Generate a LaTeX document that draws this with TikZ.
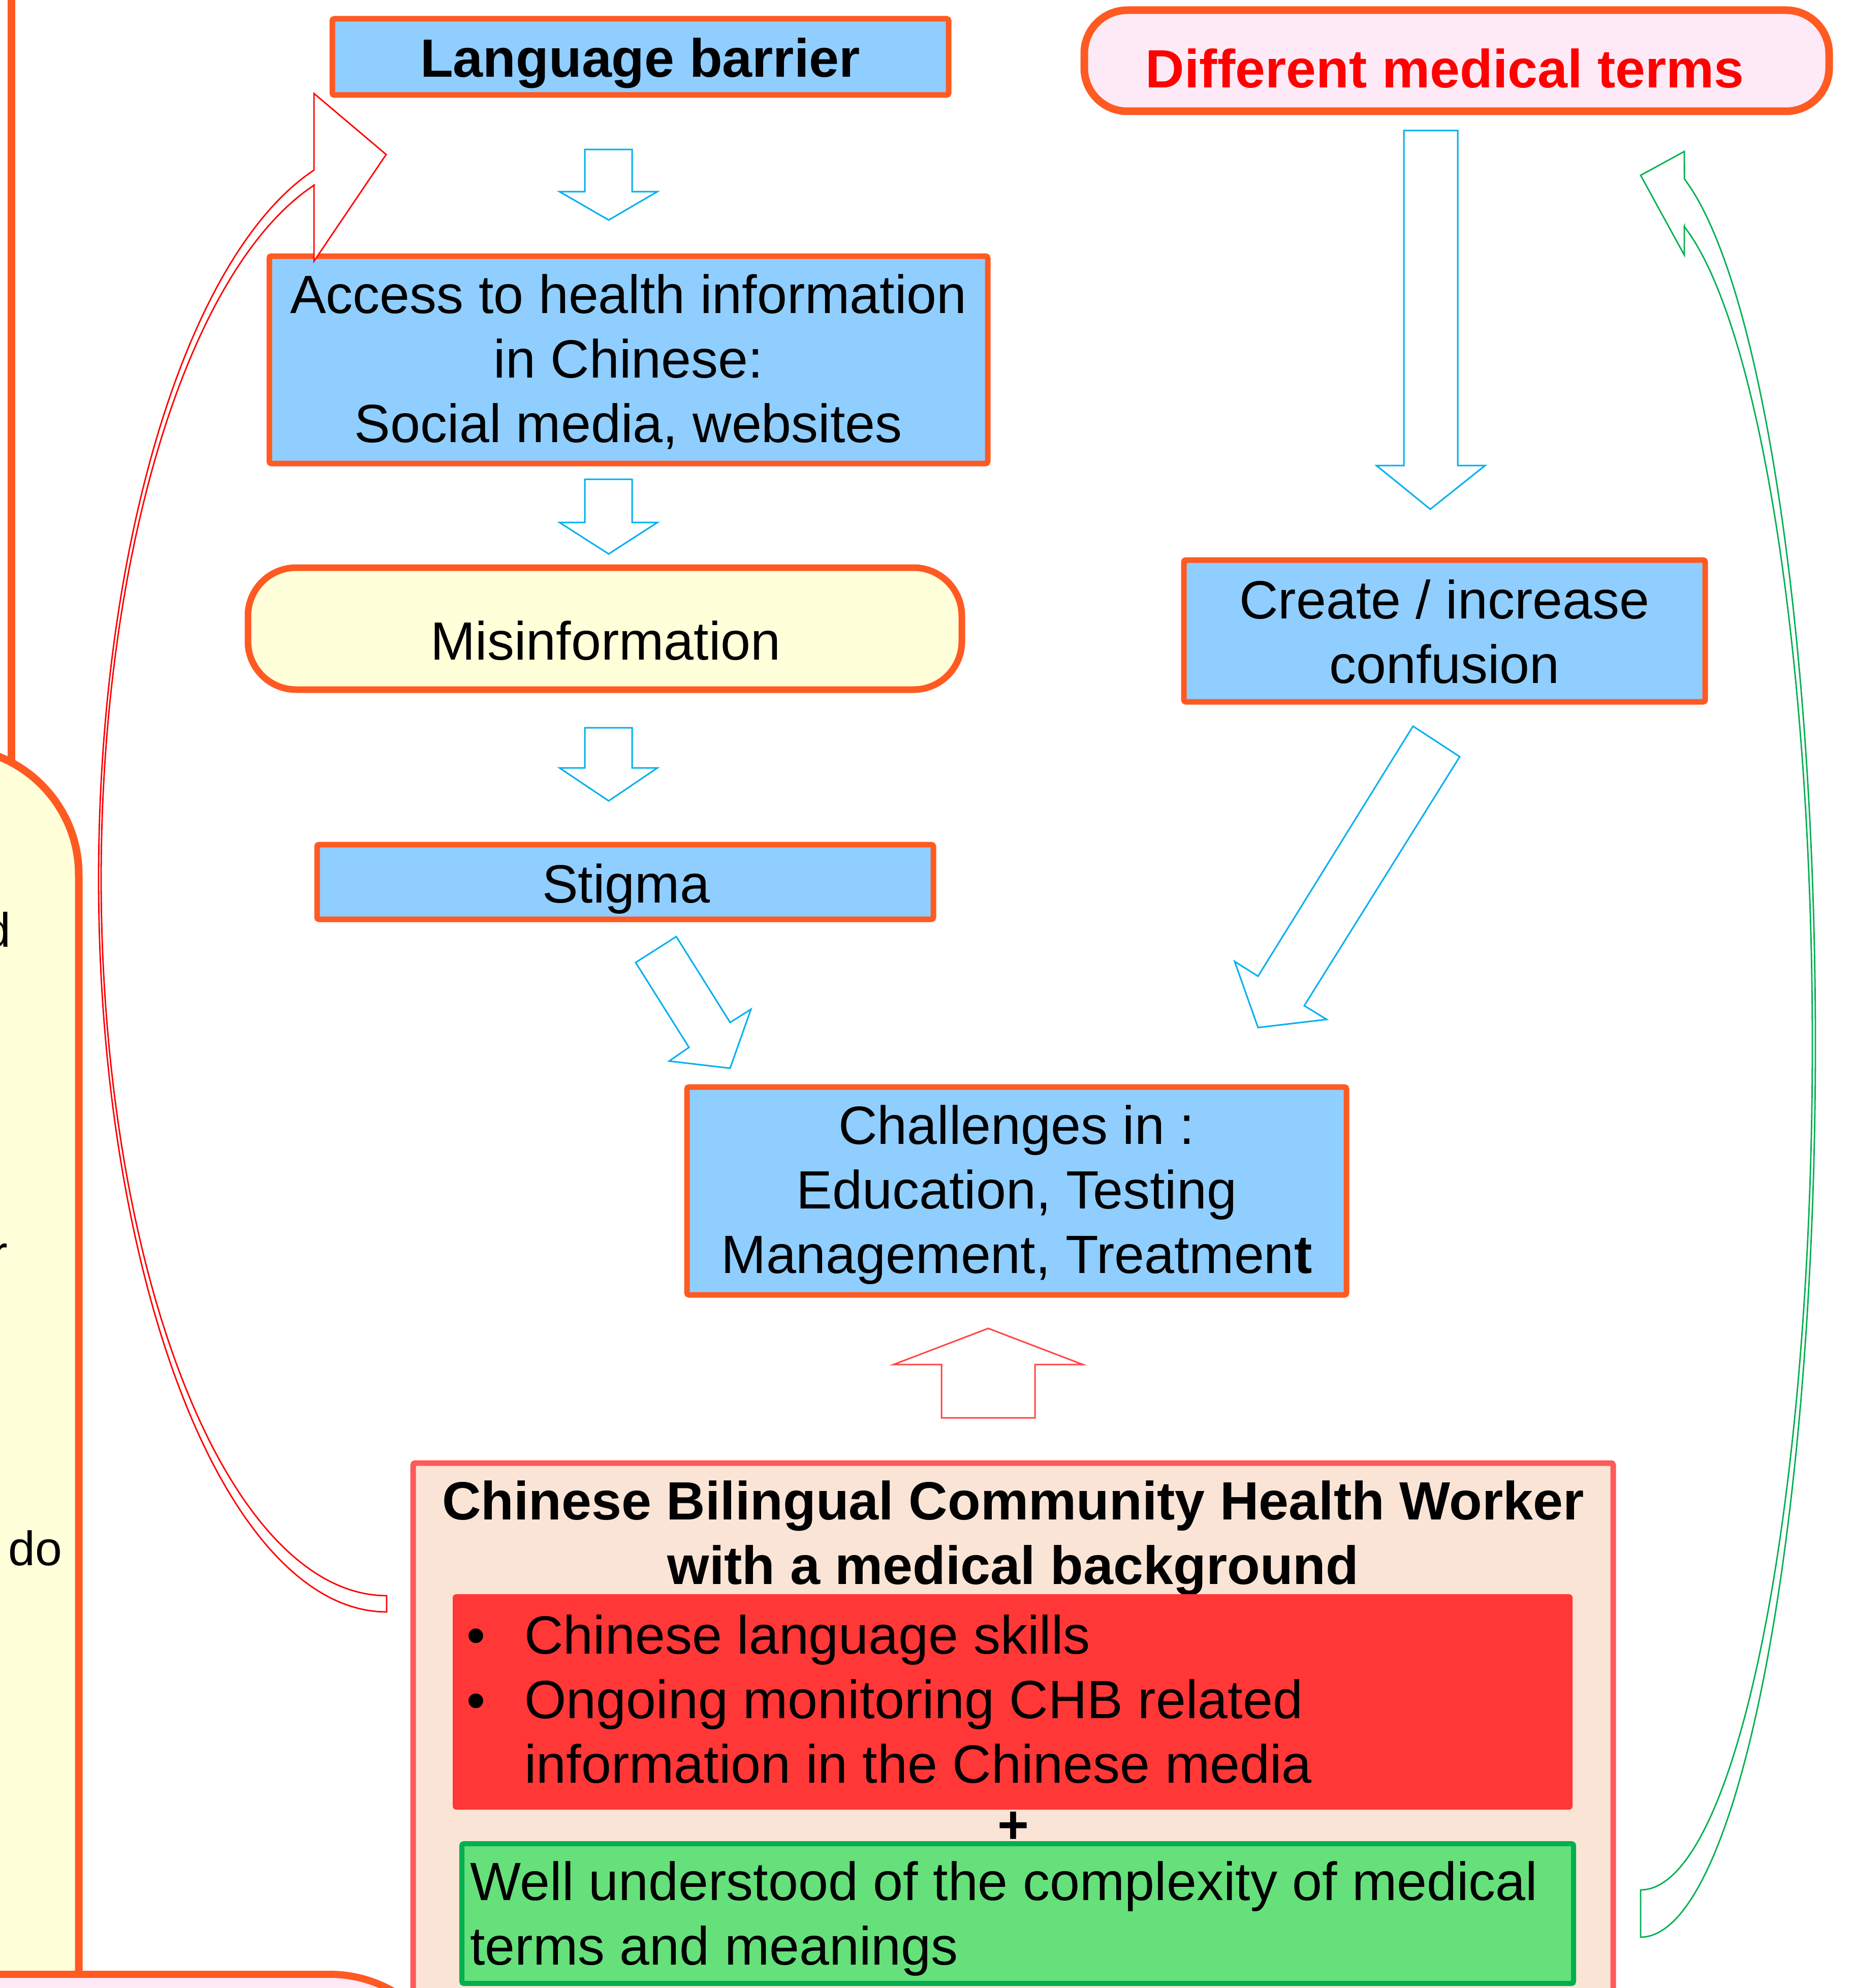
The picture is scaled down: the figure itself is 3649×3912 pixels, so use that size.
\documentclass[tikz,border=0pt]{standalone}
\usepackage{fontspec}
\setmainfont{Liberation Sans}
\definecolor{orng}{RGB}{255,90,34}
\definecolor{lblue}{RGB}{143,206,255}
\definecolor{lyellow}{RGB}{255,255,217}
\definecolor{lpink}{RGB}{253,234,246}
\definecolor{peach}{RGB}{250,228,214}
\definecolor{salmon}{RGB}{255,90,90}
\definecolor{redbox}{RGB}{255,55,55}
\definecolor{gfill}{RGB}{102,224,122}
\definecolor{gline}{RGB}{0,176,80}
\definecolor{cyanline}{RGB}{0,176,240}
\definecolor{redarrow}{RGB}{255,70,70}
\definecolor{pred}{RGB}{255,0,0}
\begin{document}
\begin{tikzpicture}[x=0.5pt,y=-0.5pt,
  bluebox/.style={draw=orng, fill=lblue, line width=5.5pt, rounded corners=2pt, inner sep=0pt},
  txt/.style={inner sep=0pt, align=center, font=\fontsize{53}{63.5}\selectfont},
  btxt/.style={inner sep=0pt, align=center, font=\fontsize{53}{63.5}\selectfont\bfseries},
  ltxt/.style={inner sep=0pt, align=left, font=\fontsize{53}{63.5}\selectfont},
  ptxt/.style={inner sep=0pt, font=\fontsize{47.5}{57}\selectfont},
  cyanarrow/.style={draw=cyanline, fill=white, line width=1.5pt, line join=miter},
  redblock/.style={draw=redarrow, fill=white, line width=1.5pt},
  redcurve/.style={draw=pred, fill=white, line width=1.4pt},
  greencurve/.style={draw=gline, fill=white, line width=1.4pt}
]
\useasboundingbox (0,0) rectangle (3649,3912);
\fill[white] (0,0) rectangle (3649,3912);
\clip (0,0) rectangle (3649,3912);

% left partial boxes
\draw[orng, line width=7.5pt] (22,-50) -- (22,1500);
\draw[draw=orng, fill=lyellow, line width=7.5pt] (-300,4200) -- (-300,1471) -- (-95,1471)
   .. controls (43,1471) and (155,1583) .. (155,1721) -- (155,4200) -- cycle;
\node[ptxt, anchor=base east] (yd) at (22,1863) {d};
\node[ptxt, anchor=base east] (yr) at (16,2498) {r};
\node[ptxt, anchor=base east] (ydo) at (123,3080) {do};
\draw[draw=orng, fill=lpink, line width=7pt] (-300,4300) -- (-300,3885) -- (649,3885)
   .. controls (787,3885) and (899,3997) .. (899,4135) -- (899,4300) -- cycle;

% boxes
\node[bluebox, minimum width=606.5pt, minimum height=75pt] (lang) at (1260.5,112) {};
\node[btxt] (langT) at (1260,126.6) {\strut Language barrier};

\node[bluebox, minimum width=707pt, minimum height=204pt] (acc) at (1237,708) {};
\node[txt] (accT) at (1237,717.6) {\strut Access to health information\\\strut in Chinese:\\\strut Social media, websites};

\node[draw=orng, fill=lyellow, line width=6.5pt, rounded corners=47.5pt, inner sep=0pt,
      minimum width=702.5pt, minimum height=120pt] (mis) at (1190.5,1237) {};
\node[txt] (misT) at (1192,1273) {\strut Misinformation};

\node[bluebox, minimum width=606.5pt, minimum height=73.5pt] (stig) at (1230.5,1735.5) {};
\node[txt] (stigT) at (1232,1751) {\strut Stigma};

\node[draw=orng, fill=lpink, line width=7.5pt, rounded corners=42.5pt, inner sep=0pt,
      minimum width=733pt, minimum height=99.5pt] (diff) at (2867,119.5) {};
\node[btxt, text=pred] (diffT) at (2844,147.6) {\strut Different medical terms};

\node[bluebox, minimum width=513pt, minimum height=139.5pt] (crea) at (2843,1241.5) {};
\node[txt] (creaT) at (2843,1256) {\strut Create / increase\\\strut confusion};

\node[bluebox, minimum width=649pt, minimum height=204.5pt] (chal) at (2001,2343.5) {};
\node[txt] (chalT) at (2001,2352.6) {\strut Challenges in :\\\strut Education, Testing\\\strut Management, Treatmen\textbf{t}};

% bottom composite box
\node[draw=salmon, fill=peach, line width=5.5pt, rounded corners=2pt, inner sep=0pt,
      minimum width=1181pt, minimum height=610.5pt] (chw) at (1994,3489.5) {};
\node[btxt] (chwT) at (1994,3029) {\strut Chinese Bilingual Community Health Worker\\\strut with a medical background};
\node[draw=redbox, fill=redbox, line width=1pt, rounded corners=3pt, inner sep=0pt,
      minimum width=1101pt, minimum height=211pt] (skills) at (1993,3349) {};
\node[ltxt, anchor=base west] (b1) at (918,3254) {\textbullet};
\node[ltxt, anchor=base west] (b2) at (918,3382) {\textbullet};
\node[ltxt, anchor=west] (skillsT) at (1032,3355.6) {\strut Chinese language skills\\\strut Ongoing monitoring CHB related\\\strut information in the Chinese media};
\node[btxt, anchor=base] (plus) at (1994,3627) {+};
\node[draw=gline, fill=gfill, line width=5pt, rounded corners=2pt, inner sep=0pt,
      minimum width=1094pt, minimum height=137.5pt] (know) at (2003,3765.5) {};
\node[ltxt, anchor=west] (knowT) at (925,3778) {\strut Well understood of the complexity of medical\\\strut terms and meanings};

% block arrows
\draw[cyanarrow] (1151,294) -- (1244,294) -- (1244,377) -- (1294,377) -- (1198,433) -- (1101,377) -- (1151,377) -- cycle;
\draw[cyanarrow] (1151,943) -- (1244,943) -- (1244,1028) -- (1294,1028) -- (1198,1090) -- (1101,1028) -- (1151,1028) -- cycle;
\draw[cyanarrow] (1151,1432) -- (1244,1432) -- (1244,1511) -- (1294,1511) -- (1198,1576) -- (1101,1511) -- (1151,1511) -- cycle;
\draw[cyanarrow] (2763,257) -- (2869,257) -- (2869,916) -- (2923,916) -- (2815,1002) -- (2709,916) -- (2763,916) -- cycle;
\draw[cyanarrow] (1251,1894) -- (1331,1843) -- (1437,2012) -- (1478,1986) -- (1437,2102) -- (1317,2088) -- (1356,2061) -- cycle;
\draw[cyanarrow] (2781,1429) -- (2873,1489) -- (2567,1979) -- (2611,2006) -- (2476,2022) -- (2430,1892) -- (2476,1921) -- cycle;
\draw[redblock] (1945,2614) -- (2131,2685) -- (2037,2685) -- (2037,2790) -- (1853,2790) -- (1853,2685) -- (1759,2685) -- cycle;

% curved arrows
\draw[redcurve] (761,3172) -- plot[domain=90:255.4, samples=90, smooth] ({761+567*cos(\x)},{1730+1442*sin(\x)})
   -- (618,184) -- (760,304) -- (618,514) -- (618,364)
   -- plot[domain=255.3:90, samples=90, smooth] ({761+562*cos(\x)},{1729+1411*sin(\x)}) -- cycle;
\draw[greencurve] (3229,3812) -- plot[domain=90:-75.5, samples=90, smooth] ({3229+344*cos(\x)},{2054+1758*sin(\x)})
   -- (3315,298) -- (3229,345) -- (3315,502) -- (3315,445)
   -- plot[domain=-75.3:90, samples=90, smooth] ({3229+338*cos(\x)},{2055+1664*sin(\x)}) -- cycle;
\end{tikzpicture}
\end{document}
